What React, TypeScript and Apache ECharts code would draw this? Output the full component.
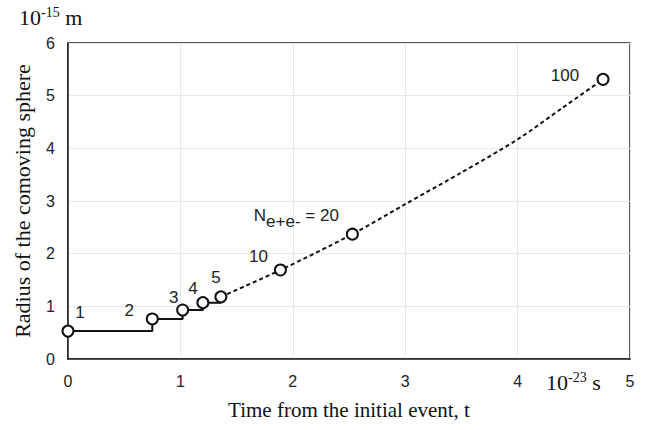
import React, { useEffect, useRef } from "react";
import * as echarts from "echarts";

// Step part (solid) of the curve: time (1e-23 s) and radius (1e-15 m)
const stepT = [0, 0.75, 1.02, 1.2, 1.36];
const stepR = [0.53, 0.76, 0.93, 1.07, 1.18];

// Dotted continuation
const curveT = [1.36, 1.89, 2.53, 3.0, 3.5, 4.0, 4.4, 4.76];
const curveR = [1.18, 1.69, 2.37, 2.94, 3.54, 4.17, 4.77, 5.31];

// Marked points (number of e+e- pairs)
const pairN = [1, 2, 3, 4, 5, 10, 20, 100];
const markerT = [0, 0.75, 1.02, 1.2, 1.36, 1.89, 2.53, 4.76];
const markerR = [0.53, 0.76, 0.93, 1.07, 1.18, 1.69, 2.37, 5.31];

const xTicks = [0, 1, 2, 3, 4, 5];
const yTicks = [0, 1, 2, 3, 4, 5, 6];

const SANS = "'Liberation Sans', Arial, sans-serif";
const SERIF = "'Liberation Serif', 'Times New Roman', serif";

// label offsets (style only)
const labelOffsets: number[][] = [
  [12, -19],
  [-23, -8],
  [-9, -13],
  [-10, -14],
  [-5, -19],
  [-22, -13],
  [-56, -16],
  [-38, -4],
];

export default function App() {
  const ref = useRef<HTMLDivElement>(null);
  useEffect(() => {
    if (!ref.current) return;
    const chart = echarts.init(ref.current, undefined, { renderer: "svg" });
    const markerData = pairN.map((n, i) => ({
      value: [markerT[i], markerR[i]],
      label: {
        show: true,
        position: "inside",
        offset: labelOffsets[i],
        formatter: n === 20 ? "{n|N}{s|e+e-}{n| = " + n + "}" : String(n),
      },
    }));
    const supRich = {
      a: { fontFamily: SERIF, fontSize: 22, lineHeight: 24, fill: "#111", color: "#111" },
      s: { fontFamily: SERIF, fontSize: 14, verticalAlign: "top", lineHeight: 24, fill: "#111", color: "#111" },
    };
    chart.setOption({
      animation: false,
      backgroundColor: "#ffffff",
      grid: {
        left: 68,
        right: 15,
        top: 43,
        bottom: 71,
        show: true,
        borderColor: "#222",
        borderWidth: 1.5,
      },
      xAxis: {
        type: "value",
        min: xTicks[0],
        max: xTicks[xTicks.length - 1],
        interval: 1,
        name: "Time from the initial event, t",
        nameLocation: "middle",
        nameGap: 40,
        nameTextStyle: { fontFamily: SERIF, fontSize: 21, color: "#111" },
        axisLine: { show: true, lineStyle: { color: "#222", width: 1.5 } },
        axisTick: { show: false },
        axisLabel: { fontFamily: SANS, fontSize: 16, color: "#222", margin: 14 },
        splitLine: { show: true, lineStyle: { color: "#e8e8e8", width: 1 } },
      },
      yAxis: {
        type: "value",
        min: yTicks[0],
        max: yTicks[yTicks.length - 1],
        interval: 1,
        name: "Radius of the comoving sphere",
        nameLocation: "middle",
        nameGap: 35,
        nameRotate: 90,
        nameTextStyle: { fontFamily: SERIF, fontSize: 22, color: "#111" },
        axisLine: { show: true, lineStyle: { color: "#222", width: 1.5 } },
        axisTick: { show: false },
        axisLabel: { fontFamily: SANS, fontSize: 16, color: "#222", margin: 13 },
        splitLine: { show: true, lineStyle: { color: "#e8e8e8", width: 1 } },
      },
      graphic: [
        {
          type: "text",
          left: 19,
          top: 5,
          style: { text: "{a|10}{s|-15}{a| m}", fill: "#111", rich: supRich },
        },
        {
          type: "text",
          left: 546,
          top: 370,
          style: { text: "{a|10}{s|-23}{a| s}", fill: "#111", rich: supRich },
        },
      ],
      series: [
        {
          type: "line",
          step: "end",
          data: stepT.map((t, i) => [t, stepR[i]]),
          symbol: "none",
          lineStyle: { color: "#111", width: 2 },
          z: 3,
        },
        {
          type: "line",
          smooth: 0.3,
          data: curveT.map((t, i) => [t, curveR[i]]),
          symbol: "none",
          lineStyle: { color: "#111", width: 2, type: [4, 3] },
          z: 3,
        },
        {
          type: "scatter",
          data: markerData,
          symbol: "circle",
          symbolSize: 11,
          itemStyle: { color: "#ffffff", borderColor: "#111", borderWidth: 2, opacity: 1 },
          label: {
            fontFamily: SANS,
            fontSize: 17,
            color: "#222",
            rich: {
              n: { fontFamily: SANS, fontSize: 17, color: "#222", lineHeight: 17, verticalAlign: "top" },
              s: { fontFamily: SANS, fontSize: 17, color: "#222", lineHeight: 23, verticalAlign: "bottom" },
            },
          },
          z: 5,
        },
      ],
    });
    return () => chart.dispose();
  }, []);
  return (
    <div
      ref={ref}
      style={{ position: "fixed", left: 0, top: 0, width: 645, height: 430 }}
    />
  );
}
